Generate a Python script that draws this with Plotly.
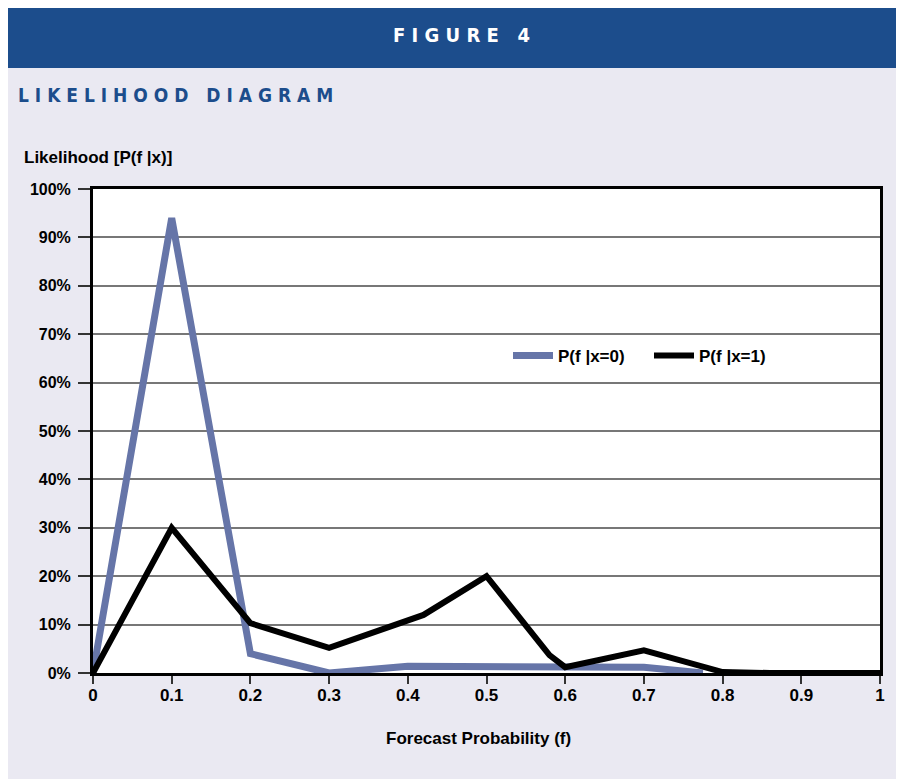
import plotly.graph_objects as go

# ---- data ----
blue_x = [0, 0.1, 0.2, 0.3, 0.4, 0.5, 0.6, 0.7, 0.775]
blue_y = [0, 0.94, 0.04, 0.0, 0.014, 0.013, 0.012, 0.012, 0.0]
black_x = [0, 0.1, 0.2, 0.3, 0.42, 0.5, 0.58, 0.6, 0.7, 0.8, 0.86, 1.0]
black_y = [0, 0.30, 0.103, 0.052, 0.12, 0.20, 0.037, 0.012, 0.047, 0.002, 0.0, 0.0]
series_names = ["P(f |x=0)", "P(f |x=1)"]
x_tickvals = [0, 0.1, 0.2, 0.3, 0.4, 0.5, 0.6, 0.7, 0.8, 0.9, 1]
x_ticktext = ["0", "0.1", "0.2", "0.3", "0.4", "0.5", "0.6", "0.7", "0.8", "0.9", "1"]
y_tickvals = [0, 0.1, 0.2, 0.3, 0.4, 0.5, 0.6, 0.7, 0.8, 0.9, 1.0]
y_ticktext = ["0%", "10%", "20%", "30%", "40%", "50%", "60%", "70%", "80%", "90%", "100%"]

# page has an 8px body margin; the figure is sized so it fills the 904x779 window
OFF = 8
PAGE_W, PAGE_H = 904, 779
W, H = PAGE_W - OFF, PAGE_H - OFF
# plot area in page pixels
PL, PR, PT, PB = 93, 880, 189, 673
FONT = "Liberation Sans, Arial, sans-serif"
NARROW = "Liberation Sans Narrow, DejaVu Sans Condensed, Arial Narrow, sans-serif"
BLUE_HDR = "#1c4d8c"
LINE_BLUE = "#6675a8"


def px_x(p):
    return (p - PL) / (PR - PL)


def px_y(p):
    return (PB - p) / (PB - PT)


fig = go.Figure()
fig.add_trace(go.Scatter(x=blue_x, y=blue_y, mode="lines", name=f"<b>{series_names[0]}</b>",
                         line=dict(color=LINE_BLUE, width=7), cliponaxis=False))
fig.add_trace(go.Scatter(x=black_x, y=black_y, mode="lines", name=f"<b>{series_names[1]}</b>",
                         line=dict(color="#000000", width=6), cliponaxis=False))

shapes = [
    dict(type="rect", xref="paper", yref="paper", x0=px_x(OFF), x1=px_x(PAGE_W), y0=px_y(68), y1=px_y(OFF),
         fillcolor=BLUE_HDR, line=dict(width=0), layer="below"),
]

annotations = [
    dict(text="<b>F I G U R E   4</b>", xref="paper", yref="paper", x=px_x(461), y=px_y(35),
         xanchor="center", yanchor="middle", showarrow=False,
         font=dict(family=NARROW, size=20, color="white")),
    dict(text="<b>L I K E L I H O O D   D I A G R A M</b>", xref="paper", yref="paper",
         x=px_x(16), y=px_y(95), xanchor="left", yanchor="middle", showarrow=False,
         font=dict(family=NARROW, size=19, color=BLUE_HDR)),
    dict(text="<b>Likelihood [P(f |x)]</b>", xref="paper", yref="paper",
         x=px_x(22), y=px_y(158), xanchor="left", yanchor="middle", showarrow=False,
         font=dict(family=FONT, size=17, color="black")),
    dict(text="<b>Forecast Probability (f)</b>", xref="paper", yref="paper",
         x=px_x(478), y=px_y(739), xanchor="center", yanchor="middle", showarrow=False,
         font=dict(family=FONT, size=17, color="black")),
]

fig.update_layout(
    width=W, height=H,
    margin=dict(l=PL - OFF, r=PAGE_W - PR, t=PT - OFF, b=PAGE_H - PB),
    paper_bgcolor="#eae9f2",
    plot_bgcolor="white",
    font=dict(family=FONT, size=16, color="black"),
    shapes=shapes,
    annotations=annotations,
    showlegend=True,
    legend=dict(orientation="h", x=px_x(508), y=px_y(356), xanchor="left", yanchor="middle",
                bgcolor="rgba(0,0,0,0)", font=dict(family=FONT, size=17, color="black"),
                itemwidth=40, entrywidth=86, tracegroupgap=0),
    xaxis=dict(range=[0, 1], tickvals=x_tickvals, ticktext=[f"<b>{t}</b>" for t in x_ticktext],
               ticks="outside", ticklen=8, tickcolor="#333", tickwidth=1.5,
               tickfont=dict(size=17), ticklabelstandoff=-3,
               showline=True, linecolor="black", linewidth=3, mirror=True,
               showgrid=False, zeroline=False),
    yaxis=dict(range=[0, 1], tickvals=y_tickvals, ticktext=[f"<b>{t}</b>" for t in y_ticktext],
               ticks="outside", ticklen=12, tickcolor="#333", tickwidth=1.5,
               tickfont=dict(size=16), ticklabelstandoff=4,
               showline=True, linecolor="black", linewidth=3, mirror=True,
               showgrid=True, gridcolor="#777777", gridwidth=1.5, zeroline=False),
)

fig.write_html("out.html", config={"displayModeBar": False})
